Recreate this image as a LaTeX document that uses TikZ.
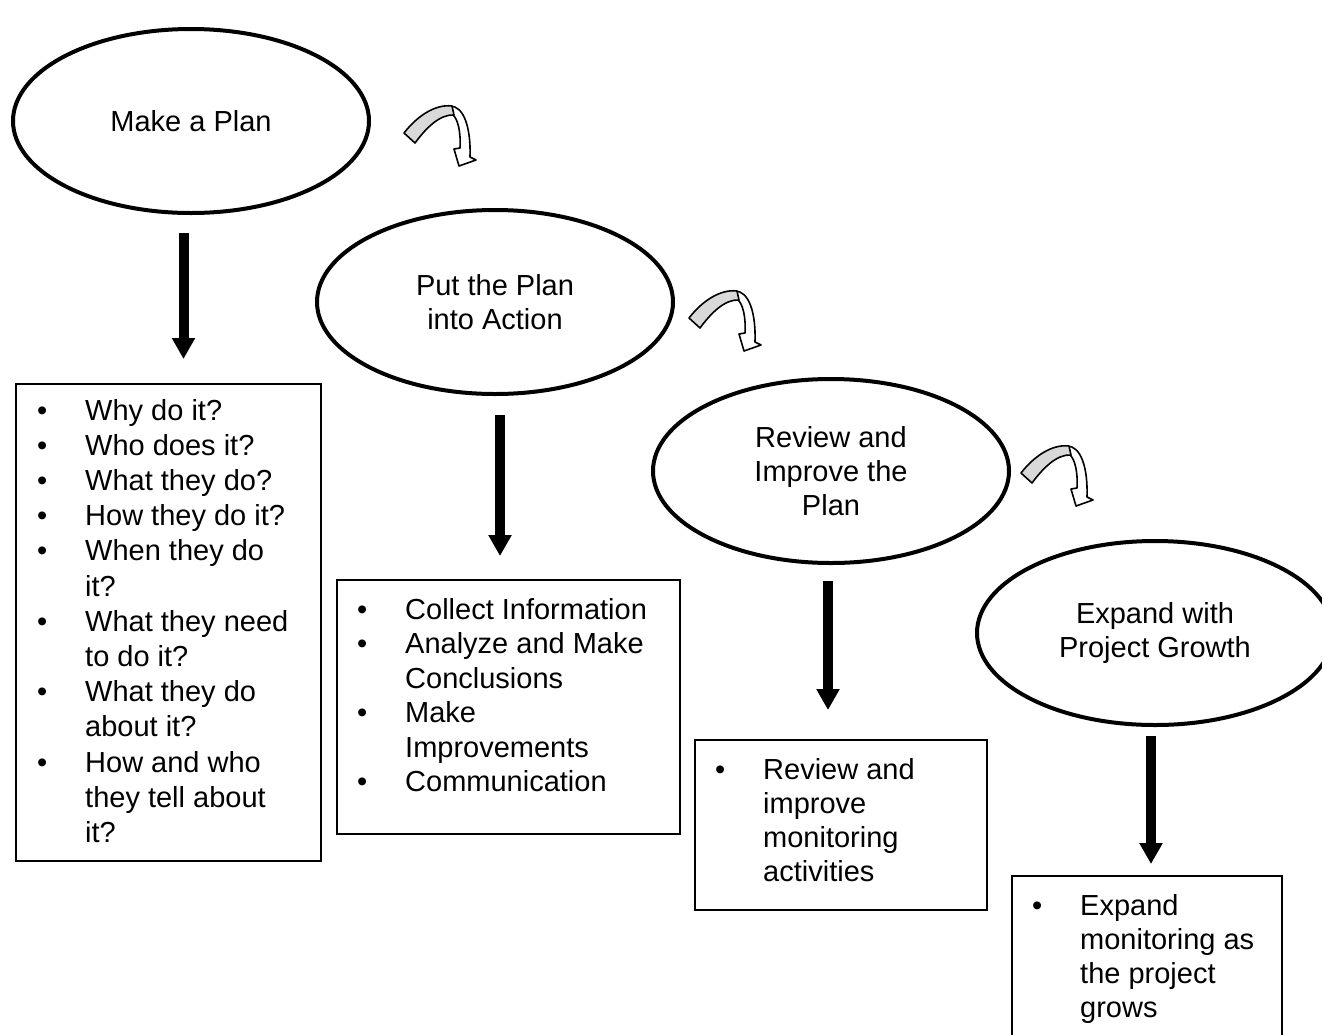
\documentclass[tikz,border=0pt]{standalone}
\usepackage{fontspec}
\setmainfont{Liberation Sans}
\usetikzlibrary{shapes.geometric,arrows.meta}
\tikzset{
  ellnode/.style={draw, ellipse, line width=4pt, minimum width=356pt, minimum height=184pt, inner sep=0pt, align=center, font=\fontsize{29pt}{34pt}\selectfont},
  boxnode/.style={draw, rectangle, line width=2pt, anchor=north west, inner sep=0pt},
  listtext/.style={anchor=base west, inner sep=0pt, font=\fontsize{29pt}{34.5pt}\selectfont},
  downarrow/.style={line width=10pt, -{Triangle[width=22pt,length=21pt]}},
  curvarrow/.pic={
    \filldraw[fill=white, line width=1.6pt, line join=round]
      (60,6) .. controls (74,6) and (81,28) .. (80,57) -- (86,60) -- (69,66) -- (64,49) -- (70,48)
      .. controls (71,33) and (68,18) .. (62,14) -- cycle;
    \filldraw[fill=gray!30, line width=1.6pt, line join=round]
      (14,33) .. controls (28,15) and (46,4) .. (62,6) -- (64,15)
      .. controls (50,14) and (36,28) .. (25,43) -- cycle;
  }
}
\begin{document}
\begin{tikzpicture}[x=1pt, y=-1pt]
\useasboundingbox (0,0) rectangle (1322,1034);

% ellipses
\node[ellnode] (e1) at (191,121) {Make a Plan};
\node[ellnode] (e2) at (495,302) {Put the Plan\\into Action};
\node[ellnode] (e3) at (831,471) {Review and\\Improve the\\Plan};
\node[ellnode] (e4) at (1155,633) {Expand with\\Project Growth};

% boxes
\node[boxnode, minimum width=305pt, minimum height=477pt] (b1) at (15,383) {};
\node[boxnode, minimum width=343pt, minimum height=254pt] (b2) at (336,579) {};
\node[boxnode, minimum width=292pt, minimum height=170pt] (b3) at (694,739) {};
\node[boxnode, minimum width=270pt, minimum height=200pt] (b4) at (1011,875) {};

% box texts
\node[listtext, font=\fontsize{29pt}{35.2pt}\selectfont] (t1) at (37,420) {\begin{tabular}[t]{@{}p{48pt}@{}l@{}}
\textbullet & Why do it?\\
\textbullet & Who does it?\\
\textbullet & What they do?\\
\textbullet & How they do it?\\
\textbullet & When they do\\
 & it?\\
\textbullet & What they need\\
 & to do it?\\
\textbullet & What they do\\
 & about it?\\
\textbullet & How and who\\
 & they tell about\\
 & it?
\end{tabular}};
\node[listtext] (t2) at (357,619) {\begin{tabular}[t]{@{}p{48pt}@{}l@{}}
\textbullet & Collect Information\\
\textbullet & Analyze and Make\\
 & Conclusions\\
\textbullet & Make\\
 & Improvements\\
\textbullet & Communication
\end{tabular}};
\node[listtext, font=\fontsize{29pt}{34pt}\selectfont] (t3) at (715,779) {\begin{tabular}[t]{@{}p{48pt}@{}l@{}}
\textbullet & Review and\\
 & improve\\
 & monitoring\\
 & activities
\end{tabular}};
\node[listtext, font=\fontsize{29pt}{34pt}\selectfont] (t4) at (1032,915) {\begin{tabular}[t]{@{}p{48pt}@{}l@{}}
\textbullet & Expand\\
 & monitoring as\\
 & the project\\
 & grows
\end{tabular}};

% down arrows
\coordinate (a1s) at (183.5,233);
\coordinate (a1e) at (183.5,359);
\coordinate (a2s) at (500,415);
\coordinate (a2e) at (500,556);
\coordinate (a3s) at (828,581);
\coordinate (a3e) at (828,710);
\coordinate (a4s) at (1151,736);
\coordinate (a4e) at (1151,864);
\draw[downarrow] (a1s) -- (a1e);
\draw[downarrow] (a2s) -- (a2e);
\draw[downarrow] (a3s) -- (a3e);
\draw[downarrow] (a4s) -- (a4e);

% curved arrows
\pic (c1) at (390,100) {curvarrow};
\pic (c2) at (675,285) {curvarrow};
\pic (c3) at (1007,440) {curvarrow};
\end{tikzpicture}
\end{document}
